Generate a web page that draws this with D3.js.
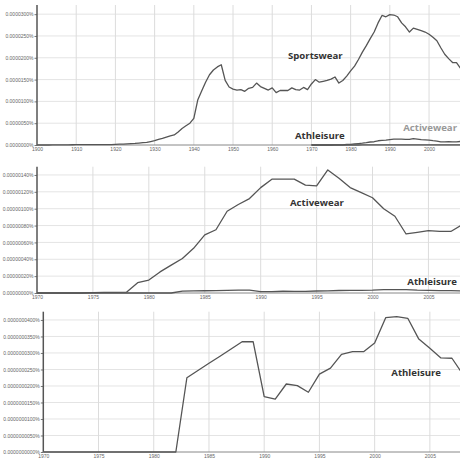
<!DOCTYPE html>
<html>
<head>
<meta charset="utf-8">
<script src="https://cdn.jsdelivr.net/npm/d3@7"></script>
<style>
  html, body { margin: 0; padding: 0; background: #fff; }
  svg { display: block; }
  .tick-label { font-family: "Liberation Sans", Arial, sans-serif; font-size: 5px; fill: #666; }
  .series-label { font-family: "Open Sans", sans-serif; font-weight: bold; font-size: 9.6px; }
</style>
</head>
<body>
<svg id="chart" width="460" height="459"></svg>
<script>
// ---------------- DATA ----------------
// Sportswear, yearly 1900-2008, in units of 0.000001 %
const sportswearStart = 1900;
const sportswear = [
  0, 0, 0, 0, 0.02, 0.03, 0.04, 0.05, 0.05, 0.06,
  0.07, 0.07, 0.08, 0.08, 0.08, 0.09, 0.09, 0.1, 0.1, 0.1,
  0.15, 0.18, 0.2, 0.25, 0.3, 0.35, 0.45, 0.55, 0.6, 0.8,
  1.0, 1.3, 1.5, 1.8, 2.1, 2.3, 3.0, 3.8, 4.4, 5.0,
  6.1, 10.3, 12.4, 14.4, 16.1, 17.2, 17.9, 18.4, 14.8, 13.3,
  12.8, 12.6, 12.7, 12.3, 13.0, 13.2, 14.2, 13.4, 13.0, 12.6,
  13.1, 12.0, 12.5, 12.5, 12.5, 13.1, 12.7, 12.6, 13.2, 12.7,
  14.0, 15.0, 14.4, 14.6, 14.8, 15.1, 15.6, 14.2, 14.8, 15.8,
  17.0, 18.1, 19.6, 21.3, 22.8, 24.4, 25.9, 28.0, 29.7, 29.4,
  29.9, 29.8, 29.4, 28.0, 27.1, 25.9, 26.8, 26.5, 26.2, 25.9,
  25.4, 24.7, 23.9, 22.3, 20.8, 19.8, 18.9, 18.9, 17.6
];
// Activewear, yearly 1970-2008, in units of 0.000001 %
const activewearStart = 1970;
const activewear = [
  0, 0, 0, 0, 0, 0.005, 0.008, 0.008, 0.01, 0.122,
  0.154, 0.25, 0.33, 0.41, 0.53, 0.69, 0.75, 0.97, 1.05, 1.12,
  1.25, 1.35, 1.35, 1.35, 1.28, 1.27, 1.46, 1.36, 1.25, 1.19,
  1.13, 1.00, 0.91, 0.70, 0.72, 0.74, 0.73, 0.73, 0.81
];
// Athleisure, yearly 1970-2008, in units of 0.000000001 %
const athleisureStart = 1970;
const athleisure = [
  0, 0, 0, 0, 0, 0, 0, 0, 0, 0,
  0, 0, 0, 22.5, 24.7, 26.9, 29.0, 31.2, 33.4, 33.4,
  16.8, 16.0, 20.6, 20.1, 18.1, 23.6, 25.4, 29.6, 30.4, 30.4,
  33.0, 40.7, 41.0, 40.5, 34.2, 31.4, 28.5, 28.4, 23.5
];

// Tick labels
const panel1YTicks = ["0.0000000%", "0.0000050%", "0.0000100%", "0.0000150%", "0.0000200%", "0.0000250%", "0.0000300%"];
const panel1YTickValues = [0, 5, 10, 15, 20, 25, 30];           // 0.000001 %
const panel1XTicks = [1900, 1910, 1920, 1930, 1940, 1950, 1960, 1970, 1980, 1990, 2000];

const panel2YTicks = ["0.00000000%", "0.00000020%", "0.00000040%", "0.00000060%", "0.00000080%", "0.00000100%", "0.00000120%", "0.00000140%"];
const panel2YTickValues = [0, 0.2, 0.4, 0.6, 0.8, 1.0, 1.2, 1.4]; // 0.000001 %
const panel2XTicks = [1970, 1975, 1980, 1985, 1990, 1995, 2000, 2005];

const panel3YTicks = ["0.0000000000%", "0.0000000050%", "0.0000000100%", "0.0000000150%", "0.0000000200%", "0.0000000250%", "0.0000000300%", "0.0000000350%", "0.0000000400%"];
const panel3YTickValues = [0, 5, 10, 15, 20, 25, 30, 35, 40];   // 0.000000001 %
const panel3XTicks = [1970, 1975, 1980, 1985, 1990, 1995, 2000, 2005];

// series labels
const seriesNames = ["Sportswear", "Activewear", "Athleisure"];

// ---------------- HELPERS ----------------
function toPoints(start, values, factor) {
  return values.map((v, i) => ({ year: start + i, v: v * factor }));
}
// common unit: 0.000001 %
const sportPts = toPoints(sportswearStart, sportswear, 1);
const activePts = toPoints(activewearStart, activewear, 1);
const athPtsMicro = toPoints(athleisureStart, athleisure, 0.001);
// unit: 0.000000001 %
const athPtsNano = toPoints(athleisureStart, athleisure, 1);

const svg = d3.select("#chart");

function drawPanel(cfg) {
  const g = svg.append("g");
  const x = d3.scaleLinear().domain(cfg.xDomain).range([cfg.left, cfg.right]);
  const y = d3.scaleLinear().domain(cfg.yDomain).range([cfg.bottom, cfg.top]);

  const clipId = "clip" + cfg.id;
  svg.append("clipPath").attr("id", clipId)
    .append("rect").attr("x", cfg.left).attr("y", cfg.top - 5)
    .attr("width", 460 - cfg.left).attr("height", cfg.bottom - cfg.top + 6);

  // horizontal grid
  g.selectAll(".hgrid").data(cfg.yTickValues.slice(1)).enter().append("line")
    .attr("x1", cfg.left).attr("x2", 460)
    .attr("y1", d => y(d)).attr("y2", d => y(d))
    .attr("stroke", "#e4e4e4").attr("stroke-width", 1);
  // vertical grid
  g.selectAll(".vgrid").data(cfg.xTicks.slice(1)).enter().append("line")
    .attr("x1", d => x(d)).attr("x2", d => x(d))
    .attr("y1", cfg.top).attr("y2", cfg.bottom)
    .attr("stroke", "#dcdcdc").attr("stroke-width", 1);

  // Y axis with d3 axis
  const yAxis = d3.axisLeft(y).tickValues(cfg.yTickValues)
    .tickFormat((d, i) => cfg.yTicks[i]).tickSize(2.5).tickPadding(1);
  const ya = g.append("g").attr("transform", `translate(${cfg.left},0)`).call(yAxis);
  ya.select(".domain").remove();
  ya.selectAll(".tick line").attr("stroke", "#777");
  ya.selectAll(".tick text").attr("class", "tick-label").attr("font-size", null).attr("font-family", null).attr("fill", null);
  g.append("line").attr("x1", cfg.left).attr("x2", cfg.left)
    .attr("y1", cfg.top).attr("y2", cfg.bottom + 0.5)
    .attr("stroke", "#555").attr("stroke-width", 1.5);

  // X axis
  const xAxis = d3.axisBottom(x).tickValues(cfg.xTicks).tickFormat(d3.format("d")).tickSize(0).tickPadding(2.5);
  const xa = g.append("g").attr("transform", `translate(0,${cfg.bottom})`).call(xAxis);
  xa.select(".domain").remove();
  xa.selectAll(".tick text").attr("class", "tick-label").attr("font-size", null).attr("font-family", null).attr("fill", null);
  g.append("line").attr("x1", cfg.left).attr("x2", 460)
    .attr("y1", cfg.bottom).attr("y2", cfg.bottom)
    .attr("stroke", "#888").attr("stroke-width", 1);

  // lines
  const line = d3.line().x(d => x(d.year)).y(d => y(d.v));
  const lg = g.append("g").attr("clip-path", `url(#${clipId})`);
  cfg.series.forEach(s => {
    lg.append("path").datum(s.pts)
      .attr("fill", "none").attr("stroke", "#555").attr("stroke-width", 1.3)
      .attr("stroke-linejoin", "round")
      .attr("d", line);
  });

  // labels
  cfg.labels.forEach(l => {
    g.append("text").attr("class", "series-label")
      .attr("x", l.x).attr("y", l.y).attr("fill", l.color)
      .attr("text-anchor", l.anchor || "start")
      .text(l.text);
  });
}

drawPanel({
  id: 1, left: 37, right: 460.4, top: 5, bottom: 145,
  xDomain: [1900, 2008], yDomain: [0, 32.1],
  xTicks: panel1XTicks, yTicks: panel1YTicks, yTickValues: panel1YTickValues,
  series: [{ pts: sportPts }, { pts: activePts }, { pts: athPtsMicro }],
  labels: [
    { text: seriesNames[0], x: 288, y: 59, color: "#333" },
    { text: seriesNames[2], x: 295, y: 139, color: "#333" },
    { text: seriesNames[1], x: 457, y: 131, color: "#999", anchor: "end" }
  ]
});

drawPanel({
  id: 2, left: 37, right: 462, top: 166.7, bottom: 293,
  xDomain: [1970, 2008], yDomain: [0, 1.498],
  xTicks: panel2XTicks, yTicks: panel2YTicks, yTickValues: panel2YTickValues,
  series: [{ pts: activePts }, { pts: athPtsMicro }],
  labels: [
    { text: seriesNames[1], x: 290, y: 205.5, color: "#333" },
    { text: seriesNames[2], x: 457, y: 284.5, color: "#333", anchor: "end" }
  ]
});

drawPanel({
  id: 3, left: 43.3, right: 463, top: 311.7, bottom: 452,
  xDomain: [1970, 2008], yDomain: [0, 42.5],
  xTicks: panel3XTicks, yTicks: panel3YTicks, yTickValues: panel3YTickValues,
  series: [{ pts: athPtsNano }],
  labels: [
    { text: seriesNames[2], x: 441, y: 375.5, color: "#333", anchor: "end" }
  ]
});
</script>
</body>
</html>
